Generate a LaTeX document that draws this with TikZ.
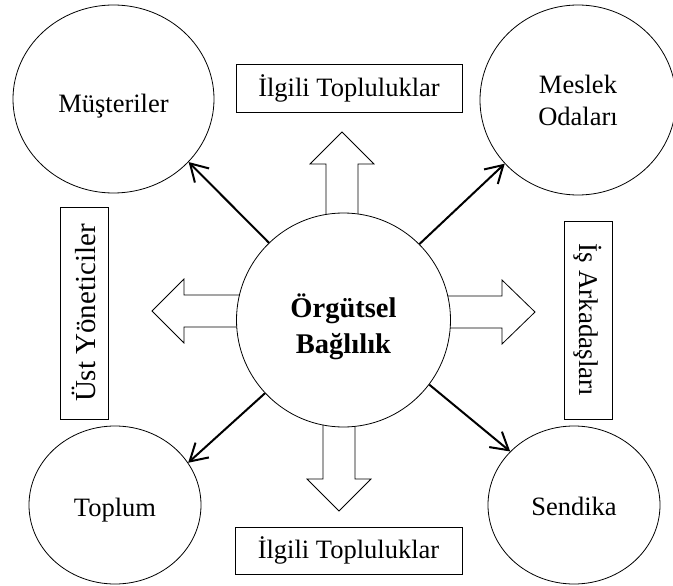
\documentclass[tikz,border=0pt]{standalone}
\usepackage{fontspec}
\setmainfont{Liberation Serif}
\usetikzlibrary{shapes.geometric,arrows.meta}
\begin{document}
\begin{tikzpicture}[x=1pt,y=-1pt,
  every node/.style={font=\fontsize{26.5}{32}\selectfont},
  oval/.style={draw,ellipse,line width=0.8pt,inner sep=0pt,align=center},
  labelbox/.style={draw,rectangle,line width=0.9pt,inner sep=0pt},
  hub/.style={draw,circle,line width=0.8pt,fill=white,minimum size=214pt,inner sep=0pt},
  hubtext/.style={align=center,font=\fontsize{28.5}{36}\selectfont\bfseries},
  link/.style={line width=2pt,-{Straight Barb[length=17pt,width=20pt,line width=2pt]}},
  blockarrow/.style={draw,line width=0.8pt,fill=white,line join=miter}]
\useasboundingbox (0,0) rectangle (673,586);

% hollow block arrows leaving the central circle
\draw[blockarrow] (326,218) -- (326,164) -- (310,164) -- (342,132) -- (374,164) -- (358,164) -- (358,218) -- cycle;
\draw[blockarrow] (323,422) -- (323,479) -- (307,479) -- (339,511) -- (371,479) -- (355,479) -- (355,422) -- cycle;
\draw[blockarrow] (241,295) -- (184,295) -- (184,279) -- (152,311) -- (184,343) -- (184,327) -- (241,327) -- cycle;
\draw[blockarrow] (446,296) -- (502,296) -- (502,280) -- (535,312) -- (502,344) -- (502,328) -- (446,328) -- cycle;

% central concept
\node[hub] (hub) at (343.5,320) {};
\node[hubtext] (hubname) at (343.5,327) {Örgütsel\\Bağlılık};

% surrounding groups
\node[oval,minimum width=201,minimum height=188,text height=28pt,text depth=0pt] (mus) at (113.5,99) {Müşteriler};
\node[oval,minimum width=196,minimum height=190] (mes) at (578,100) {Meslek\\Odaları};
\node[oval,minimum width=172,minimum height=158,text height=22pt,text depth=0pt] (top) at (115,505) {Toplum};
\node[oval,minimum width=172,minimum height=158,text height=20pt,text depth=0pt] (sen) at (574,505) {Sendika};

% labelled boxes
\node[labelbox,minimum width=226,minimum height=48] (ilgiU) at (349,88) {İlgili Topluluklar};
\node[labelbox,minimum width=227,minimum height=47] (ilgiD) at (348.5,550.5) {İlgili Topluluklar};
\node[labelbox,rotate=90,minimum width=212,minimum height=48,font=\fontsize{29}{32}\selectfont] (ust) at (84,313) {Üst Yöneticiler};
\node[labelbox,rotate=-90,minimum width=198,minimum height=48,font=\fontsize{27}{32}\selectfont] (is) at (588,320) {İş Arkadaşları};

% links to the groups
\draw[link] (hub.134) -- (mus.-40.7);
\draw[link] (hub.45.6) -- (mes.221);
\draw[link] (hub.223) -- (top.30.5);
\draw[link] (hub.-37) -- (sen.140);
\end{tikzpicture}
\end{document}
